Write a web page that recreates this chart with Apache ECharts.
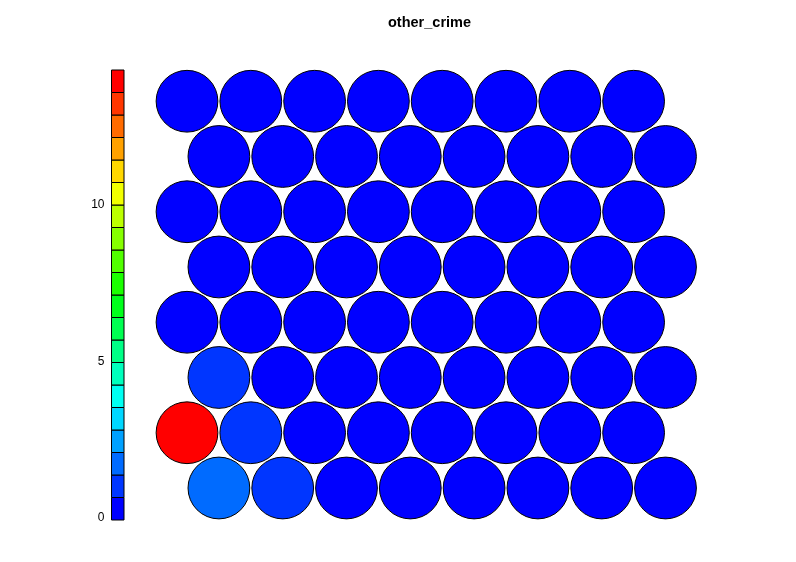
<!DOCTYPE html>
<html>
<head>
<meta charset="utf-8">
<script src="https://cdn.jsdelivr.net/npm/echarts@6/dist/echarts.min.js"></script>
<style>html,body{margin:0;padding:0;background:#fff}#c{width:796px;height:562px}</style>
</head>
<body>
<div id="c"></div>
<script>
// Node values, rows from bottom (row 1) to top (row 8), columns left to right
const row1 = [1.80, 1.00, 0.12, 0.10, 0.08, 0.10, 0.12, 0.10];
const row2 = [14.30, 0.95, 0.10, 0.08, 0.10, 0.10, 0.08, 0.10];
const row3 = [0.85, 0.12, 0.10, 0.10, 0.08, 0.10, 0.10, 0.08];
const row4 = [0.10, 0.08, 0.10, 0.10, 0.10, 0.08, 0.10, 0.10];
const row5 = [0.08, 0.10, 0.10, 0.08, 0.10, 0.10, 0.10, 0.08];
const row6 = [0.10, 0.10, 0.08, 0.10, 0.10, 0.10, 0.08, 0.10];
const row7 = [0.10, 0.08, 0.10, 0.10, 0.08, 0.10, 0.10, -0.07];
const row8 = [0.08, 0.10, 0.10, 0.10, 0.10, 0.08, 0.10, 0.10];
const rows = [row1, row2, row3, row4, row5, row6, row7, row8];

const title = 'other_crime';
const tickValues = [0, 5, 10];
// palette from low (blue) to high (red), 20 bins
const palette = ['#0000FF','#0036FF','#006BFF','#00A1FF','#00D7FF','#00FFF2','#00FFBC','#00FF86','#00FF51','#00FF1B',
                 '#1BFF00','#51FF00','#86FF00','#BCFF00','#F2FF00','#FFD700','#FFA100','#FF6B00','#FF3600','#FF0000'];
const zmin = -0.07, zmax = 14.30;

const nb = palette.length;
const bw = (zmax - zmin) / nb;
function colorOf(v) {
  let k = Math.floor((v - zmin) / bw);
  if (k < 0) k = 0; if (k >= nb) k = nb - 1;
  return palette[k];
}

const nodes = [];
rows.forEach((vals, ri) => {
  const r = ri + 1;
  vals.forEach((v, ci) => {
    const x = (ci + 1) + (r % 2 === 1 ? 0.5 : 0);
    const y = r * Math.sqrt(3) / 2;
    nodes.push([x, y, v]);
  });
});

const bins = palette.map((c, k) => [zmin + k * bw, zmin + (k + 1) * bw, k]);

const chart = echarts.init(document.getElementById('c'), null, {renderer: 'canvas'});
chart.setOption({
  animation: false,
  backgroundColor: '#fff',
  title: {
    text: title, left: 383, top: 10,
    textStyle: {fontFamily: 'Liberation Sans, Arial, sans-serif', fontSize: 14.5, fontWeight: 'bold', color: '#000'}
  },
  grid: [
    {left: 155.1, width: 542.3, top: 64.75, height: 478.5},
    {left: 111.5, width: 12.5, top: 70, height: 450}
  ],
  xAxis: [
    {gridIndex: 0, type: 'value', min: 0.5, max: 9, show: false},
    {gridIndex: 1, type: 'value', min: 0, max: 1, show: false}
  ],
  yAxis: [
    {gridIndex: 0, type: 'value', min: 0, max: 7.5, show: false},
    {gridIndex: 1, type: 'value', min: zmin, max: zmax, interval: 5,
     axisLine: {show: false}, axisTick: {show: false}, splitLine: {show: false},
     axisLabel: {
       margin: 7, color: '#000', fontSize: 12, fontFamily: 'Liberation Sans, Arial, sans-serif',
       customValues: tickValues,
       formatter: v => String(Math.round(v))
     }}
  ],
  series: [
    {
      type: 'custom', xAxisIndex: 0, yAxisIndex: 0, data: nodes,
      renderItem: function (params, api) {
        const c = api.coord([api.value(0), api.value(1)]);
        const r = api.size([0.484, 0])[0];
        return {type: 'circle', shape: {cx: c[0], cy: c[1], r: r},
          style: {fill: colorOf(api.value(2)), stroke: '#000', lineWidth: 1}};
      }
    },
    {
      type: 'custom', xAxisIndex: 1, yAxisIndex: 1, data: bins,
      renderItem: function (params, api) {
        const p1 = api.coord([0, api.value(1)]);
        const p2 = api.coord([1, api.value(0)]);
        return {type: 'rect', shape: {x: p1[0], y: p1[1], width: p2[0] - p1[0], height: p2[1] - p1[1]},
          style: {fill: palette[api.value(2)], stroke: '#000', lineWidth: 1}};
      }
    }
  ]
});
</script>
</body>
</html>
